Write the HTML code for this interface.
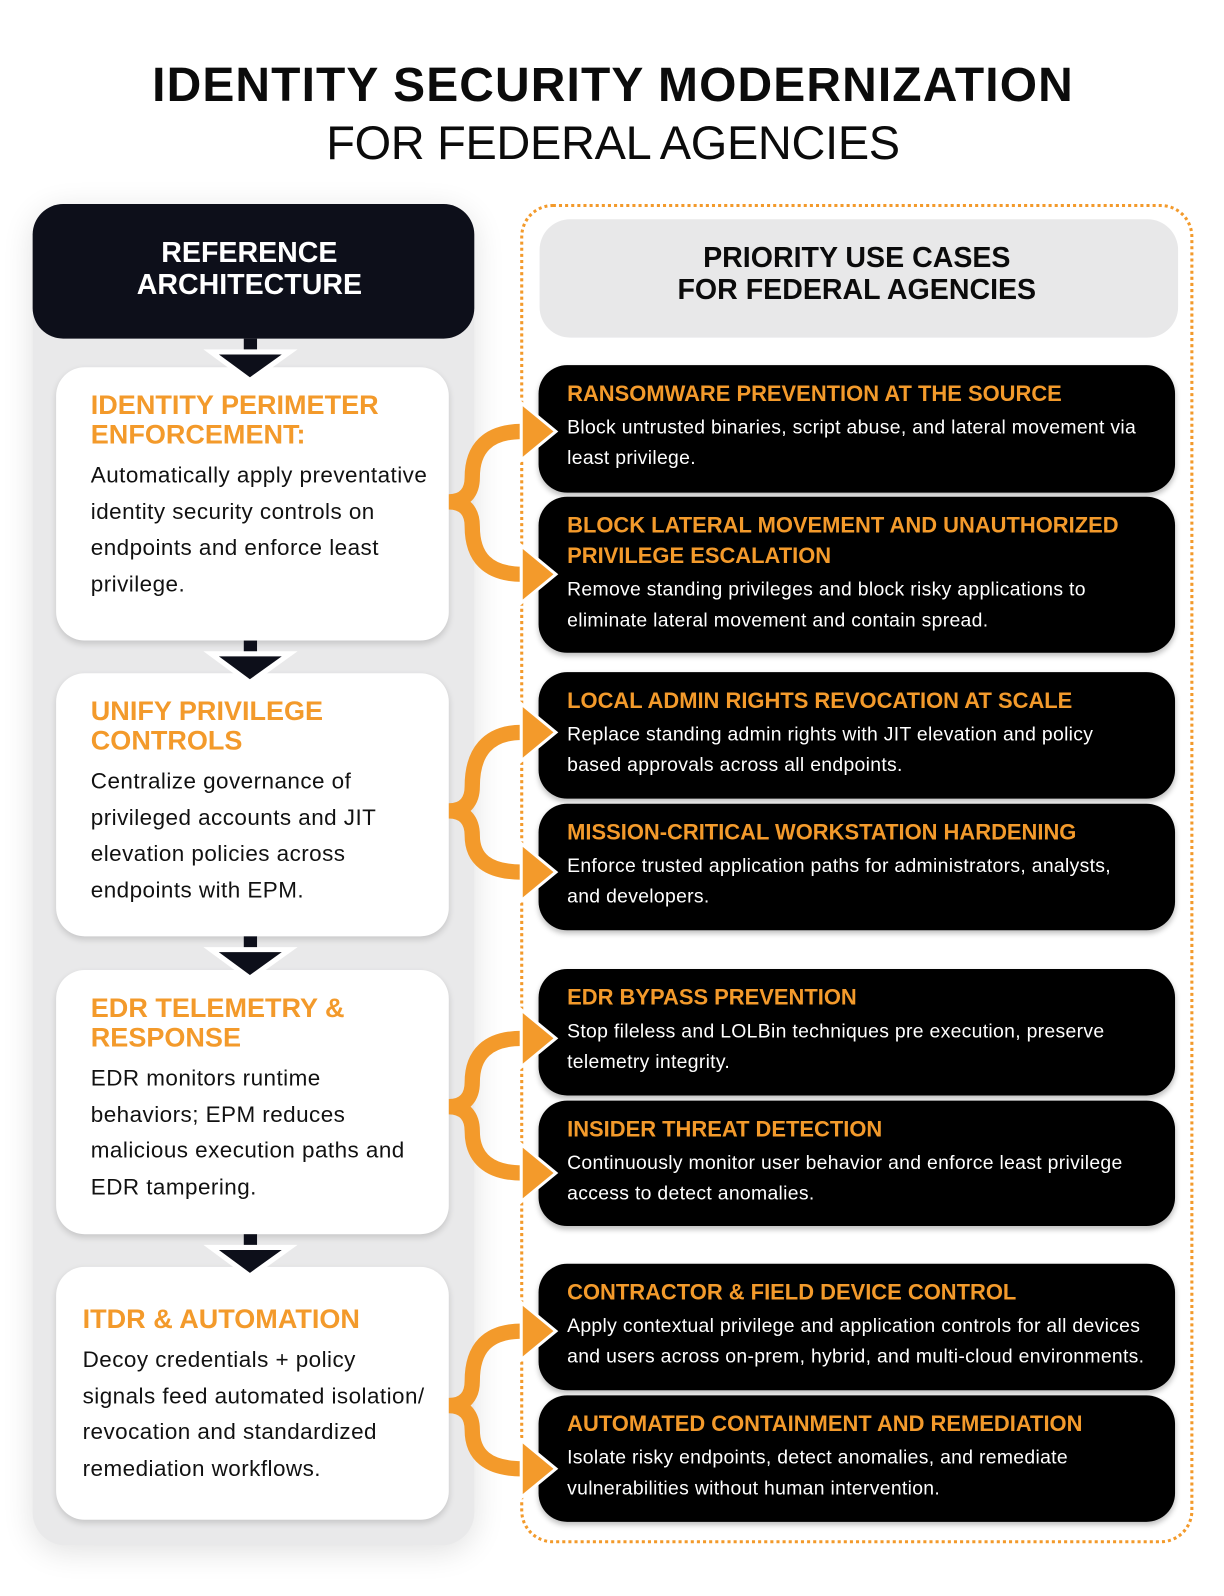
<!DOCTYPE html>
<html><head><meta charset="utf-8"><style>
html,body{margin:0;padding:0;background:#fff;width:1224px;height:1596px;overflow:hidden}
#w{position:absolute;left:0;top:0;width:1200px;height:1565px;transform:scale(1.02);transform-origin:0 0;font-family:"Liberation Sans",Arial,sans-serif}
.a{position:absolute}
.t1{left:0;width:1202px;text-align:center;top:55px;font-size:47px;font-weight:bold;color:#0b0b0b;letter-spacing:1.1px}
.t2{left:0;width:1202px;text-align:center;top:113px;font-size:46px;color:#0b0b0b;letter-spacing:-0.3px}
.lp{left:32px;top:200px;width:433px;height:1315px;background:#e9e9ea;border-radius:32px;box-shadow:0 6px 30px rgba(0,0,0,.12)}
.lh{left:32px;top:200px;width:433px;height:132px;background:#0d0f1a;border-radius:30px;color:#fff;font-weight:bold;font-size:28px;text-align:center;line-height:31px;box-sizing:border-box;padding-top:32px;padding-right:8px}
.wc{left:55px;width:385px;background:#fff;border-radius:28px;box-shadow:0 3px 6px rgba(0,0,0,.15);box-sizing:border-box;padding:23px 0 0 34px;white-space:nowrap}
.wc h3{margin:0 0 7px;color:#f39a2b;font-size:26.5px;line-height:29px;font-weight:bold}
.wc p{margin:0;font-size:22px;line-height:35.5px;color:#111;letter-spacing:0.45px}
.rd{left:510px;top:200px;width:660px;height:1313px;border:3px dotted #f39a2b;border-radius:32px;box-sizing:border-box}
.rh{left:529px;top:215px;width:626px;height:116px;background:#e8e8e9;border-radius:30px;text-align:center;font-weight:bold;font-size:28px;line-height:31px;color:#0b0b0b;box-sizing:border-box;padding-top:22px;padding-right:4px}
.bc{left:528px;width:624px;background:#000;border-radius:28px;box-shadow:0 3px 5px rgba(0,0,0,.25);box-sizing:border-box;padding:13px 10px 0 28px;white-space:nowrap}
.bc h4{margin:0 0 4px;color:#f39a2b;font-size:21.5px;line-height:30px;font-weight:bold}
.bc p{margin:0;color:#fff;font-size:19px;line-height:29.5px;letter-spacing:0.3px}
</style></head><body><div id="w">
<div class="a t1">IDENTITY SECURITY MODERNIZATION</div>
<div class="a t2">FOR FEDERAL AGENCIES</div>
<div class="a lp"></div>
<div class="a lh">REFERENCE<br>ARCHITECTURE</div>
<div class="a rd"></div>
<div class="a rh">PRIORITY USE CASES<br>FOR FEDERAL AGENCIES</div>

<div class="a wc" style="top:360px;height:268px"><h3>IDENTITY PERIMETER<br>ENFORCEMENT:</h3><p>Automatically apply preventative<br>identity security controls on<br>endpoints and enforce least<br>privilege.</p></div>
<div class="a wc" style="top:660px;height:258px"><h3>UNIFY PRIVILEGE<br>CONTROLS</h3><p>Centralize governance of<br>privileged accounts and JIT<br>elevation policies across<br>endpoints with EPM.</p></div>
<div class="a wc" style="top:951px;height:259px"><h3>EDR TELEMETRY &amp;<br>RESPONSE</h3><p>EDR monitors runtime<br>behaviors; EPM reduces<br>malicious execution paths and<br>EDR tampering.</p></div>
<div class="a wc" style="top:1242px;height:248px;padding:37px 0 0 26px"><h3>ITDR &amp; AUTOMATION</h3><p>Decoy credentials + policy<br>signals feed automated isolation/<br>revocation and standardized<br>remediation workflows.</p></div>

<svg class="a" style="left:0;top:0" width="1200" height="1565">
<g fill="#0d0f1a">
<rect x="239" y="332" width="13" height="14"/>
<rect x="239" y="628" width="13" height="14"/>
<rect x="239" y="918" width="13" height="14"/>
<rect x="239" y="1210" width="13" height="14"/>
</g>
<g fill="#0d0f1a" stroke="#fff" stroke-width="5">
<polygon points="207,345 284,345 245,373"/>
<polygon points="207,641 284,641 245,669"/>
<polygon points="207,931 284,931 245,959"/>
<polygon points="207,1223 284,1223 245,1251"/>
</g>
<g fill="none" stroke="#f39a2b" stroke-width="15">
<path d="M440,492 C456,492 463,482 463,468 C463,440 478,423 512,423 M440,492 C456,492 463,502 463,516 C463,546 478,563 512,563"/>
<path d="M440,795 C456,795 463,785 463,771 C463,738 478,718 512,718 M440,795 C456,795 463,805 463,819 C463,842 478,855 512,855"/>
<path d="M440,1085 C456,1085 463,1075 463,1061 C463,1034 478,1018 512,1018 M440,1085 C456,1085 463,1095 463,1109 C463,1134 478,1150 512,1150"/>
<path d="M440,1378 C456,1378 463,1368 463,1354 C463,1322 478,1305 512,1305 M440,1378 C456,1378 463,1388 463,1402 C463,1426 478,1440 512,1440"/>
</g>
</svg>

<div class="a bc" style="top:358px;height:125px"><h4>RANSOMWARE PREVENTION AT THE SOURCE</h4><p>Block untrusted binaries, script abuse, and lateral movement via<br>least privilege.</p></div>
<div class="a bc" style="top:487px;height:153px"><h4>BLOCK LATERAL MOVEMENT AND UNAUTHORIZED<br>PRIVILEGE ESCALATION</h4><p>Remove standing privileges and block risky applications to<br>eliminate lateral movement and contain spread.</p></div>
<div class="a bc" style="top:659px;height:124px"><h4>LOCAL ADMIN RIGHTS REVOCATION AT SCALE</h4><p>Replace standing admin rights with JIT elevation and policy<br>based approvals across all endpoints.</p></div>
<div class="a bc" style="top:788px;height:124px"><h4>MISSION-CRITICAL WORKSTATION HARDENING</h4><p>Enforce trusted application paths for administrators, analysts,<br>and developers.</p></div>
<div class="a bc" style="top:950px;height:124px"><h4>EDR BYPASS PREVENTION</h4><p>Stop fileless and LOLBin techniques pre execution, preserve<br>telemetry integrity.</p></div>
<div class="a bc" style="top:1079px;height:123px"><h4>INSIDER THREAT DETECTION</h4><p>Continuously monitor user behavior and enforce least privilege<br>access to detect anomalies.</p></div>
<div class="a bc" style="top:1239px;height:124px"><h4>CONTRACTOR &amp; FIELD DEVICE CONTROL</h4><p>Apply contextual privilege and application controls for all devices<br>and users across on-prem, hybrid, and multi-cloud environments.</p></div>
<div class="a bc" style="top:1368px;height:124px"><h4>AUTOMATED CONTAINMENT AND REMEDIATION</h4><p>Isolate risky endpoints, detect anomalies, and remediate<br>vulnerabilities without human intervention.</p></div>

<svg class="a" style="left:0;top:0" width="1200" height="1565">
<g fill="#f39a2b" stroke="#fff" stroke-width="3">
<polygon points="511,395 545,423 511,451"/>
<polygon points="511,535 545,563 511,591"/>
<polygon points="511,690 545,718 511,746"/>
<polygon points="511,827 545,855 511,883"/>
<polygon points="511,990 545,1018 511,1046"/>
<polygon points="511,1122 545,1150 511,1178"/>
<polygon points="511,1277 545,1305 511,1333"/>
<polygon points="511,1412 545,1440 511,1468"/>
</g>
</svg>
</div></body></html>
